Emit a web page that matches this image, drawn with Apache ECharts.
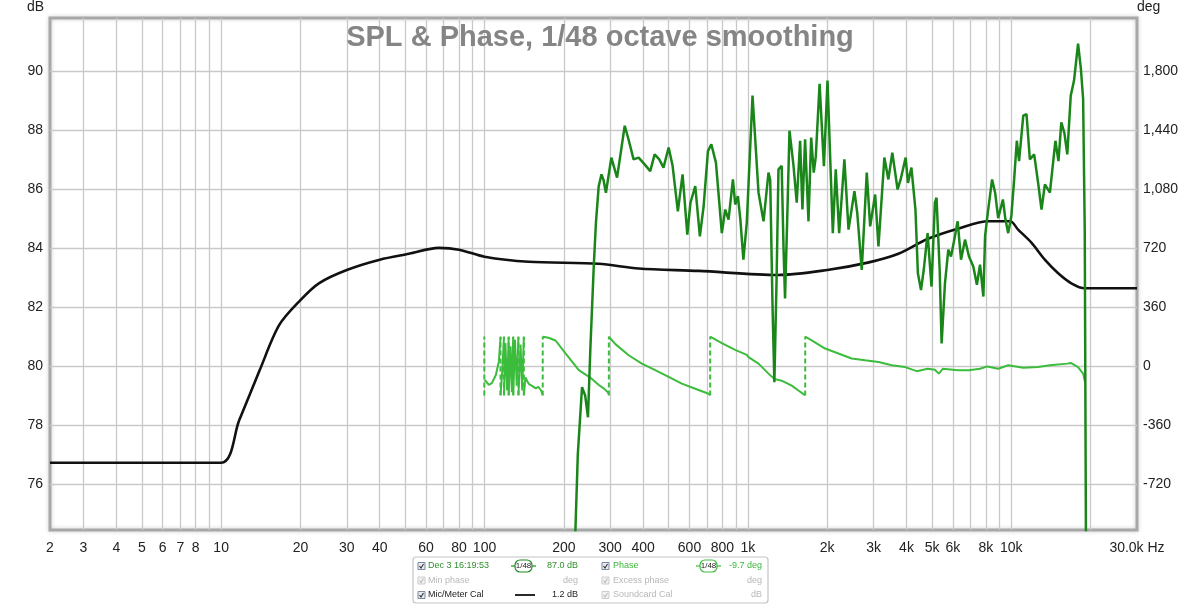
<!DOCTYPE html>
<html>
<head>
<meta charset="utf-8">
<title>SPL & Phase</title>
<script src="https://cdn.jsdelivr.net/npm/echarts@6/dist/echarts.min.js"></script>
<style>
  html, body { margin: 0; padding: 0; background: #fff; }
  #chart { width: 1200px; height: 604px; }
</style>
</head>
<body>
<div id="chart"></div>
<script>
// SPL measurement (dark green), Hz / dB
var splFreq = [217, 226, 234.5, 241, 247, 252, 259.8, 264.8, 271.3, 278, 283, 289, 303, 318.5, 340.6, 352, 368, 384.6,
  405.3, 425.7, 442.3, 460.6, 478, 500, 517.6, 542, 564.8, 588.6, 605, 631, 657, 679, 705, 726, 756, 796, 820, 844,
  877, 895, 916, 936, 961, 990, 1041, 1097, 1146, 1197, 1215, 1240, 1260, 1285, 1306, 1343, 1365, 1383, 1410, 1438,
  1490, 1532, 1578, 1610, 1648, 1698, 1738, 1778, 1810, 1871, 1943, 2005, 2100, 2155, 2220, 2324, 2409, 2537, 2600,
  2705, 2826, 2911, 3041, 3130, 3296, 3413, 3533, 3700, 3800, 3970, 4050, 4175, 4325, 4418, 4540, 4650, 4809, 4977,
  5126, 5200, 5345, 5437, 5598, 5764, 5900, 6050, 6254, 6442, 6671, 6906, 7172, 7400, 7607, 7832, 7950, 8110, 8451,
  8680, 8913, 9290, 9500, 9730, 10000, 10250, 10490, 10700, 11100, 11420, 11760, 12210, 12640, 13020, 13410, 14010,
  14700, 15100, 15480, 15900, 16310, 16810, 17300, 17920, 18370, 18730, 19000, 19240];
var splDb = [72, 77, 79.28, 79.0, 78.26, 80.5, 83.37, 84.85, 86.09, 86.49, 86.3, 85.87, 87.06, 86.38, 88.14, 87.68, 87.0, 87.06,
  86.83, 86.6, 87.17, 87.0, 86.72, 87.4, 86.78, 85.24, 86.49, 84.45, 85.53, 86.09, 84.39, 85.42, 87.28, 87.51, 86.89, 84.5, 85.3, 84.96,
  86.32, 85.47, 85.75, 84.96, 83.6, 84.85, 89.16, 85.87, 84.9, 86.55, 86.3, 82, 79.45, 83, 86.66, 86.78, 84, 82.29, 85, 87.97,
  86.77, 85.53, 87.63, 85.3, 87.68, 84.9, 87.74, 86.55, 87.1, 89.56, 86.77, 89.67, 84.5, 86.66, 84.5, 87.0, 84.62, 85.92, 85.19,
  83.25, 86.55, 84.73, 85.81, 84.05, 87.06, 86.32, 87.23, 85.98, 86.32, 87.06, 86.2, 86.72, 85.3, 83.14, 82.57, 83.25, 84.5, 82.69,
  85.53, 85.7, 83.25, 80.76, 82.8, 83.94, 83.71, 84.2, 84.9, 83.6, 84.28, 83.71, 83.37, 82.75, 83.43, 82.35, 84.4, 85.07, 86.32,
  85.87, 85.01, 85.64, 84.96, 84.5, 85.07, 86.32, 87.63, 86.94, 88.48, 88.53, 87.0, 87.17, 86.2, 85.3, 86.15, 85.87,
  87.63, 86.94, 88.25, 87.9, 87.17, 89.16, 89.67, 90.92, 90.07, 89.05, 84.6, 72];

// Mic/Meter Cal (black), Hz / dB
var calFreq = [2.24, 10, 11.7, 14, 16.6, 20, 23.5, 30, 40, 51.7, 67, 80, 100, 147, 271, 385, 650, 1300, 2000, 2850, 3725,
  4800, 6260, 8200, 9900, 10610, 11940, 13400, 15060, 16900, 19000, 30000];
var calDb = [76.72, 76.72, 78.15, 79.85, 81.38, 82.23, 82.8, 83.25, 83.6, 83.8, 84.0, 83.94, 83.7, 83.53, 83.46, 83.3, 83.22,
  83.08, 83.25, 83.5, 83.8, 84.3, 84.65, 84.9, 84.9, 84.62, 84.17, 83.6, 83.14, 82.8, 82.63, 82.63];

// Phase (light green), Hz / deg, null = wrap break
var phaseFreq = [100.3, 103.8, 106.6, 110.4, 113.3, 115, 115,
  115, 116.8, 118.5, 118.5,
  118.5, 120, 121.8, 123.5, 123.5,
  123.5, 125.5, 127, 128.5, 128.5,
  128.5, 130.5, 132.5, 134.5, 134.5,
  134.5, 137, 139, 141, 141,
  141, 143, 146, 148, 151, 156.5, 160, 164, 166.3, 166.3,
  166.3, 175, 186, 203, 228, 252, 271.5, 285, 294.6, 296.5, 296.5,
  296.5, 314, 352.5, 395.5, 444.5, 500, 561, 631, 709, 719, 719,
  719, 796, 894, 990, 1005, 1097, 1197, 1260, 1343, 1466, 1555, 1635, 1650, 1650,
  1650, 1746, 1963, 2205, 2476, 2785, 3130, 3515, 3950, 4375, 4809, 5126, 5305, 5500, 6254, 6906, 7607, 8110,
  8913, 9730, 11100, 12640, 14010, 16310, 16810, 17920, 18730, 19050];
var phaseDeg = [-85, -116, -105, -55, 26, 175, null,
  -178, -30, 175, null,
  -178, 140, -150, 175, null,
  -178, 120, -160, 175, null,
  -178, 160, -120, 175, null,
  -178, 130, -150, 175, null,
  -178, -70, -100, -113, -120, -137, -127, -150, -178, null,
  178, 172, 155, 76, -26, -71, -116, -140, -162, -175, null,
  178, 133, 65, 14, -26, -67, -108, -139, -170, -178, null,
  178, 139, 98, 67, 54, 14, -47, -80, -90, -120, -150, -175, -178, null,
  178, 156, 106, 76, 45, 34, 24, 4, -7, -32, -17, -23, -47, -17, -27, -27, -17, -3,
  -17, 4, -11, -7, 4, 14, 18, -7, -47, -99];
var wrapFreq = [99.8, 115, 118.5, 123.5, 128.5, 134.5, 141, 166.3, 296.5, 719, 1650];

// axes
var freqMin = 2.24, freqMax = 30000;
var dbMin = 74.44, dbMax = 91.79;
var degMin = (dbMin - 80) * 180, degMax = (dbMax - 80) * 180;
var freqGrid = [3, 4, 5, 6, 7, 8, 9, 10, 20, 30, 40, 50, 60, 70, 80, 90, 100, 200, 300, 400, 500, 600, 700, 800, 900,
  1000, 2000, 3000, 4000, 5000, 6000, 7000, 8000, 9000, 10000, 20000];
var freqLabels = [2.24, 3, 4, 5, 6, 7, 8, 10, 20, 30, 40, 60, 80, 100, 200, 300, 400, 600, 800, 1000, 2000, 3000, 4000,
  5000, 6000, 8000, 10000, 30000];
var dbTicks = [76, 78, 80, 82, 84, 86, 88, 90];
var degTicks = [-720, -360, 0, 360, 720, 1080, 1440, 1800];

var FONT = '"Liberation Sans", Arial, sans-serif';

function pairs(xs, ys) {
  return xs.map(function (x, i) { return [x, ys[i] === null ? '-' : ys[i]]; });
}
var wrapData = [];
wrapFreq.forEach(function (f) { wrapData.push([f, -180], [f, 180], [f, '-']); });

function fmtFreq(v) {
  if (v >= 29999) return '30.0k Hz';
  if (v < 2.5) return '2';
  if (v >= 1000) return Math.round(v / 1000) + 'k';
  return String(Math.round(v));
}

// legend block (REW style)
var legendG = [];
function txt(x, y, s, color, align, size) {
  legendG.push({ type: 'text', x: x, y: y, silent: true,
    style: { text: s, fill: color, font: (size || 9) + 'px ' + FONT, align: align || 'left', verticalAlign: 'middle',
      textAlign: align || 'left', textVerticalAlign: 'middle' } });
}
function box(x, y, on) {
  legendG.push({ type: 'rect', shape: { x: x, y: y - 3.5, width: 7, height: 7 },
    style: { fill: on ? '#e6eaf2' : '#f2f2f2', stroke: on ? '#7f8a9c' : '#cccccc', lineWidth: 1 } });
  legendG.push({ type: 'polyline', shape: { points: [[x + 1.5, y], [x + 3, y + 2], [x + 5.5, y - 2]] },
    style: { stroke: on ? '#333' : '#bbb', lineWidth: 1.1, fill: null } });
}
function smoothIcon(x, y, color) {
  legendG.push({ type: 'line', shape: { x1: x, y1: y, x2: x + 25, y2: y }, style: { stroke: color, lineWidth: 1.2 } });
  legendG.push({ type: 'rect', shape: { x: x + 4, y: y - 6, width: 17, height: 12, r: 5 },
    style: { fill: '#fff', stroke: color, lineWidth: 1.2 } });
  txt(x + 12.5, y, '1/48', '#222', 'center', 8);
}
legendG.push({ type: 'rect', shape: { x: 413, y: 557, width: 355, height: 46, r: 3 },
  style: { fill: '#fff', stroke: '#c4c4c4', lineWidth: 1.2 } });
var r1 = 566, r2 = 580.5, r3 = 595;
box(418, r1, true); txt(428, r1, 'Dec 3 16:19:53', '#2f8f2f'); smoothIcon(511, r1, '#1e8c1e'); txt(578, r1, '87.0 dB', '#2f8f2f', 'right');
box(602, r1, true); txt(613, r1, 'Phase', '#3cb83c'); smoothIcon(696, r1, '#3cbc3c'); txt(762, r1, '-9.7 deg', '#3cb83c', 'right');
box(418, r2, false); txt(428, r2, 'Min phase', '#b8b8b8'); txt(578, r2, 'deg', '#b8b8b8', 'right');
box(602, r2, false); txt(613, r2, 'Excess phase', '#b8b8b8'); txt(762, r2, 'deg', '#b8b8b8', 'right');
box(418, r3, true); txt(428, r3, 'Mic/Meter Cal', '#222'); txt(578, r3, '1.2 dB', '#222', 'right');
legendG.push({ type: 'line', shape: { x1: 515, y1: r3, x2: 535, y2: r3 }, style: { stroke: '#111', lineWidth: 1.8 } });
box(602, r3, false); txt(613, r3, 'Soundcard Cal', '#b8b8b8'); txt(762, r3, 'dB', '#b8b8b8', 'right');

var chart = echarts.init(document.getElementById('chart'), null, { renderer: 'canvas' });

var option = {
  animation: false,
  backgroundColor: '#fff',
  textStyle: { fontFamily: FONT },
  title: {
    text: 'SPL & Phase, 1/48 octave smoothing',
    left: 'center', top: 18,
    textStyle: { fontFamily: FONT, fontSize: 29, fontWeight: 'bold', color: '#858585' }
  },
  grid: {
    left: 50, right: 63, top: 18, bottom: 74,
    show: true, borderColor: '#a8a8a8', borderWidth: 3, backgroundColor: 'transparent',
    shadowColor: 'rgba(0,0,0,0.2)', shadowBlur: 4
  },
  xAxis: {
    type: 'log', logBase: 10, min: freqMin, max: freqMax,
    axisLine: { show: false },
    axisTick: { show: false, customValues: freqGrid },
    splitLine: { show: true, lineStyle: { color: '#c9c9c9', width: 1.3 } },
    axisLabel: {
      customValues: freqLabels, margin: 11, color: '#222', fontSize: 14, fontFamily: FONT,
      formatter: fmtFreq, showMinLabel: true, showMaxLabel: true, hideOverlap: false
    }
  },
  yAxis: [
    {
      type: 'value', min: dbMin, max: dbMax, position: 'left',
      name: 'dB', nameLocation: 'end', nameGap: 4,
      nameTextStyle: { color: '#222', fontSize: 14, fontFamily: FONT, align: 'right', padding: [0, 6, 0, 0] },
      axisLine: { show: false },
      axisTick: { show: false, customValues: dbTicks },
      splitLine: { show: true, lineStyle: { color: '#c9c9c9', width: 1.3 } },
      axisLabel: { customValues: dbTicks, margin: 7, color: '#222', fontSize: 14, fontFamily: FONT }
    },
    {
      type: 'value', min: degMin, max: degMax, position: 'right',
      name: 'deg', nameLocation: 'end', nameGap: 4,
      nameTextStyle: { color: '#222', fontSize: 14, fontFamily: FONT, align: 'left', padding: [0, 0, 0, 0] },
      axisLine: { show: false },
      axisTick: { show: false, customValues: degTicks },
      splitLine: { show: false },
      axisLabel: {
        customValues: degTicks, margin: 6, color: '#222', fontSize: 14, fontFamily: FONT,
        formatter: function (v) { return v.toLocaleString('en-US'); }
      }
    }
  ],
  graphic: legendG,
  series: [
    {
      name: 'Phase', type: 'line', yAxisIndex: 1, showSymbol: false, connectNulls: false,
      data: pairs(phaseFreq, phaseDeg),
      lineStyle: { color: '#3cbc3c', width: 2 }, z: 2
    },
    {
      name: 'Phase wrap', type: 'line', yAxisIndex: 1, showSymbol: false, connectNulls: false,
      data: wrapData,
      lineStyle: { color: '#3cbc3c', width: 2, type: [5, 3] }, z: 2
    },
    {
      name: 'Mic/Meter Cal', type: 'line', yAxisIndex: 0, showSymbol: false, smooth: 0.3,
      data: pairs(calFreq, calDb),
      lineStyle: { color: '#111', width: 2.6 }, z: 3
    },
    {
      name: 'Dec 3 16:19:53', type: 'line', yAxisIndex: 0, showSymbol: false,
      data: pairs(splFreq, splDb),
      lineStyle: { color: '#1a861a', width: 2.5 }, z: 4
    }
  ]
};

chart.setOption(option);
</script>
</body>
</html>
